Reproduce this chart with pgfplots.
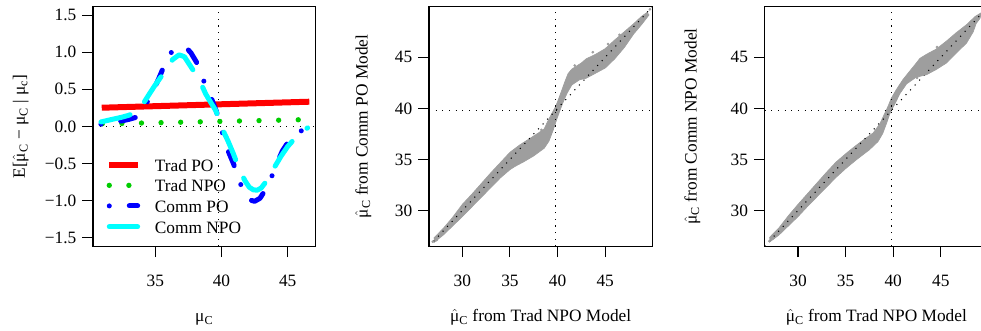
\documentclass[border=0pt]{standalone}
\usepackage{pgfplots}
\pgfplotsset{compat=1.18}
\usepackage{fontspec}
\setmainfont{Liberation Serif}
\definecolor{bandgray}{RGB}{158,158,158}
\definecolor{ngreen}{RGB}{0,205,0}
\definecolor{rcyan}{RGB}{0,255,255}
\definecolor{rblue}{RGB}{0,0,255}
\definecolor{rred}{RGB}{255,0,0}
\newcommand{\muhat}{$\hat{\mbox{μ}}$}
\newcommand{\fs}{\fontsize{13}{15.6}\selectfont}
\begin{document}
\fs
\begin{tikzpicture}[font=\fs]
\useasboundingbox (0,0) rectangle (735.75pt,-247.5pt);
\pgfplotsset{
  rstyle/.style={
    scale only axis,
    clip=false,
    axis lines=box,
    axis line style={line width=1.1pt, black},
    every tick/.style={line width=0.8pt, black},
    major tick length=8pt,
    tick align=outside,
    xtick pos=left, ytick pos=left,
    /pgf/number format/assume math mode=true,
    ticklabel style={font=\fs},
    label style={font=\fs},
    xticklabel style={anchor=base, yshift=-22pt},
    xlabel style={at={(axis description cs:0.5,-0.3122)}, anchor=base},
  },
  rdot/.style={black, line width=0.8pt, dash pattern=on 0.8pt off 4.2pt},
  rframe/.style={black, line width=1.1pt, line join=miter},
}
% ---------------- Panel 1 ----------------
\begin{axis}[rstyle,
  at={(69.75pt,-4.7pt)}, anchor=north west,
  width=166.9pt, height=180.2pt,
  xmin=30.3, xmax=47.1, ymin=-1.62, ymax=1.62,
  xtick={35,40,45},
  ytick={-1.5,-1,-0.5,0,0.5,1,1.5},
  yticklabels={−1.5,−1.0,−0.5,0.0,0.5,1.0,1.5},
  xlabel={μ\textsubscript{C}},
  ylabel={E[\muhat\textsubscript{C} − μ\textsubscript{C} | μ\textsubscript{c}]},
  ylabel style={at={(axis description cs:-0.3056,0.5)}, anchor=base},
]
\addplot[rdot] coordinates {(39.8,-1.62) (39.8,1.62)};
\addplot[rdot] coordinates {(30.3,0) (47.1,0)};
% Trad PO
\addplot[rred, line width=4.5pt] coordinates {(30.96,0.252) (46.63,0.333)};
% Trad NPO
\addplot[ngreen, line width=4pt, line cap=round, dash pattern=on 0pt off 14.7pt]
  coordinates {(31.0,0.035) (38.5,0.062) (46.5,0.092)};
% Comm PO
\addplot[rblue, line width=3.75pt, line cap=round, line join=round,
  dash pattern=on 0pt off 15pt on 11.25pt off 15pt] coordinates {
(30.9,0.03) (31.5,0.045) (32.0,0.06) (32.5,0.075) (33.0,0.095) (33.5,0.12)
(33.9,0.19) (34.4,0.33) (34.9,0.50) (35.3,0.66) (35.7,0.83) (36.1,0.98)
(36.5,1.04) (36.9,1.07) (37.3,1.07) (37.7,0.99) (38.1,0.87) (38.5,0.69)
(38.9,0.50) (39.3,0.35) (39.6,0.21) (39.9,0.03) (40.2,-0.18) (40.5,-0.33)
(40.9,-0.50) (41.3,-0.71) (41.7,-0.90) (42.1,-0.99) (42.5,-1.01) (42.9,-0.97)
(43.3,-0.86) (43.7,-0.72) (44.1,-0.53) (44.6,-0.33) (45.0,-0.22) (45.4,-0.13)
(45.9,-0.07) (46.5,-0.02)};
% Comm NPO
\addplot[rcyan, line width=3.75pt, line cap=round, line join=round,
  dash pattern=on 22.5pt off 15pt] coordinates {
(30.9,0.06) (31.5,0.085) (32.0,0.105) (32.5,0.125) (33.0,0.15) (33.4,0.18)
(33.8,0.23) (34.1,0.31) (34.6,0.45) (35.0,0.56) (35.4,0.66) (35.9,0.77)
(36.3,0.90) (36.8,0.965) (37.2,0.94) (37.6,0.83) (38.0,0.72) (38.4,0.60)
(38.8,0.44) (39.2,0.32) (39.55,0.22) (39.8,0.11) (40.05,-0.03) (40.5,-0.2)
(40.9,-0.37) (41.2,-0.51) (41.5,-0.64) (41.8,-0.74) (42.1,-0.82) (42.4,-0.855)
(42.7,-0.86) (43.0,-0.83) (43.3,-0.76) (43.7,-0.64) (44.1,-0.52) (44.5,-0.40)
(45.0,-0.27) (45.5,-0.17) (45.9,-0.09) (46.2,-0.05) (46.5,-0.02)};
% legend samples
\addplot[rred, line width=4.5pt] coordinates {(31.53,-0.518) (33.67,-0.518)};
\addplot[ngreen, line width=4pt, line cap=round, dash pattern=on 0pt off 14.7pt]
  coordinates {(31.53,-0.795) (33.67,-0.795)};
\addplot[rblue, line width=3.75pt, line cap=round,
  dash pattern=on 0pt off 15pt on 11.25pt off 15pt] coordinates {(31.53,-1.072) (33.67,-1.072)};
\addplot[rcyan, line width=3.75pt, line cap=round,
  dash pattern=on 22.5pt off 15pt] coordinates {(31.53,-1.353) (33.67,-1.353)};
\node[anchor=base west, inner sep=0pt] at (axis cs:34.95,-0.603) {Trad PO};
\node[anchor=base west, inner sep=0pt] at (axis cs:34.95,-0.880) {Trad NPO};
\node[anchor=base west, inner sep=0pt] at (axis cs:34.95,-1.157) {Comm PO};
\node[anchor=base west, inner sep=0pt] at (axis cs:34.95,-1.438) {Comm NPO};
% frame
\addplot[rframe] coordinates {(30.3,-1.62) (47.1,-1.62) (47.1,1.62) (30.3,1.62) (30.3,-1.62)} -- cycle;
\end{axis}
% ---------------- Panel 2 ----------------
\begin{axis}[rstyle,
  at={(321.75pt,-4.7pt)}, anchor=north west,
  width=167.5pt, height=180.2pt,
  xmin=26.5, xmax=49.95, ymin=26.47, ymax=50.0,
  xtick={30,35,40,45}, ytick={30,35,40,45},
  xlabel={\muhat\textsubscript{C} from Trad NPO Model},
  ylabel={\muhat\textsubscript{C} from Comm PO Model},
  ylabel style={at={(axis description cs:-0.2752,0.5)}, anchor=base},
]
\addplot[fill=bandgray, draw=bandgray, line width=0.5pt] coordinates {
(27.0,27.3) (28,28.25) (29,29.35) (30,30.6) (31,31.6) (32,32.65) (33,33.7)
(34,34.7) (35,35.7) (36,36.4) (37,37.0) (38,37.6) (38.6,38.0) (39.0,38.8)
(39.4,39.5) (39.8,40.2) (40.1,40.9) (40.45,41.8) (40.8,42.7) (41.1,43.4)
(41.5,43.85) (42,44.15) (42.5,44.45) (43,44.85) (44,45.3) (45,45.85) (46,46.7)
(47,47.5) (48,48.3) (48.8,49.0) (49.4,49.4)
(49.6,49.15) (48.9,48.3) (48.5,47.85) (48,47.3) (47,45.95) (46,44.85) (45,43.95)
(44,43.45) (43,42.95) (42.3,42.8) (41.5,42.3) (41.0,41.5) (40.6,40.65)
(40.25,39.8) (39.9,38.9) (39.55,37.9) (39.1,36.8) (38.6,36.1) (37.5,35.35)
(36.5,34.8) (35.5,34.3) (35,34.0) (34,33.2) (33,32.25) (32,31.3) (31,30.35)
(30,29.4) (29,28.5) (28,27.6) (27,26.85)};
\addplot[only marks, mark=*, mark size=0.8pt, bandgray] coordinates {
(26.9,26.95) (27.3,27.1) (27.7,27.65) (28.2,28.1) (28.6,28.3) (43.7,45.5)
(45.3,46.3) (46.5,47.2) (49.7,49.7) (38.3,37.9) (41.8,44.2)};
\addplot[rdot] coordinates {(26.5,26.5) (49.95,49.95)};
\addplot[rdot] coordinates {(39.8,26.47) (39.8,50)};
\addplot[rdot] coordinates {(26.5,39.8) (49.95,39.8)};
\addplot[rframe] coordinates {(26.5,26.47) (49.95,26.47) (49.95,50) (26.5,50) (26.5,26.47)} -- cycle;
\end{axis}
% ---------------- Panel 3 ----------------
\begin{axis}[rstyle,
  at={(573.5pt,-4.7pt)}, anchor=north west,
  width=167.5pt, height=180.2pt,
  xmin=26.5, xmax=49.95, ymin=26.47, ymax=50.0,
  xtick={30,35,40,45}, ytick={30,35,40,45},
  xlabel={\muhat\textsubscript{C} from Trad NPO Model},
  ylabel={\muhat\textsubscript{C} from Comm NPO Model},
  ylabel style={at={(axis description cs:-0.3045,0.5)}, anchor=base},
]
\addplot[fill=bandgray, draw=bandgray, line width=0.5pt] coordinates {
(27.0,27.35) (28,28.3) (29,29.5) (30,30.6) (31,31.65) (32,32.7) (33,33.75)
(34,34.75) (35,35.55) (36,36.3) (37,37.0) (37.9,37.6) (38.6,38.5) (39.1,39.5)
(39.45,40.2) (39.8,41.0) (40.3,41.8) (41.0,42.8) (41.6,43.5) (42.3,44.3)
(42.8,44.9) (43.5,45.3) (44.5,45.8) (45.6,46.6) (46.6,47.4) (47.7,48.2)
(48.6,49.0) (49.3,49.4)
(49.1,48.8) (48.7,48.3) (48.4,47.5) (47.7,46.4) (46.6,45.4) (45.6,44.45)
(44.5,43.8) (43.5,43.3) (42.4,43.05) (41.4,42.4) (40.7,41.45) (40.2,40.5)
(39.65,39.5) (39.3,38.55) (38.9,37.55) (38.4,36.75) (37.5,35.95) (36.1,34.95)
(35,34.1) (34,33.25) (33,32.3) (32,31.35) (31,30.4) (30,29.4) (29,28.5)
(28,27.6) (27,26.9)};
\addplot[only marks, mark=*, mark size=0.8pt, bandgray] coordinates {
(27.0,27.0) (27.4,27.3) (27.8,27.7) (28.3,28.2) (42.5,43.0) (43.2,43.3)
(44.6,46.0) (49.6,49.6) (49.4,49.8)};
\addplot[rdot] coordinates {(26.5,26.5) (49.95,49.95)};
\addplot[rdot] coordinates {(39.8,26.47) (39.8,50)};
\addplot[rdot] coordinates {(26.5,39.8) (49.95,39.8)};
\addplot[rframe] coordinates {(26.5,26.47) (49.95,26.47) (49.95,50) (26.5,50) (26.5,26.47)} -- cycle;
\end{axis}
\end{tikzpicture}
\end{document}
